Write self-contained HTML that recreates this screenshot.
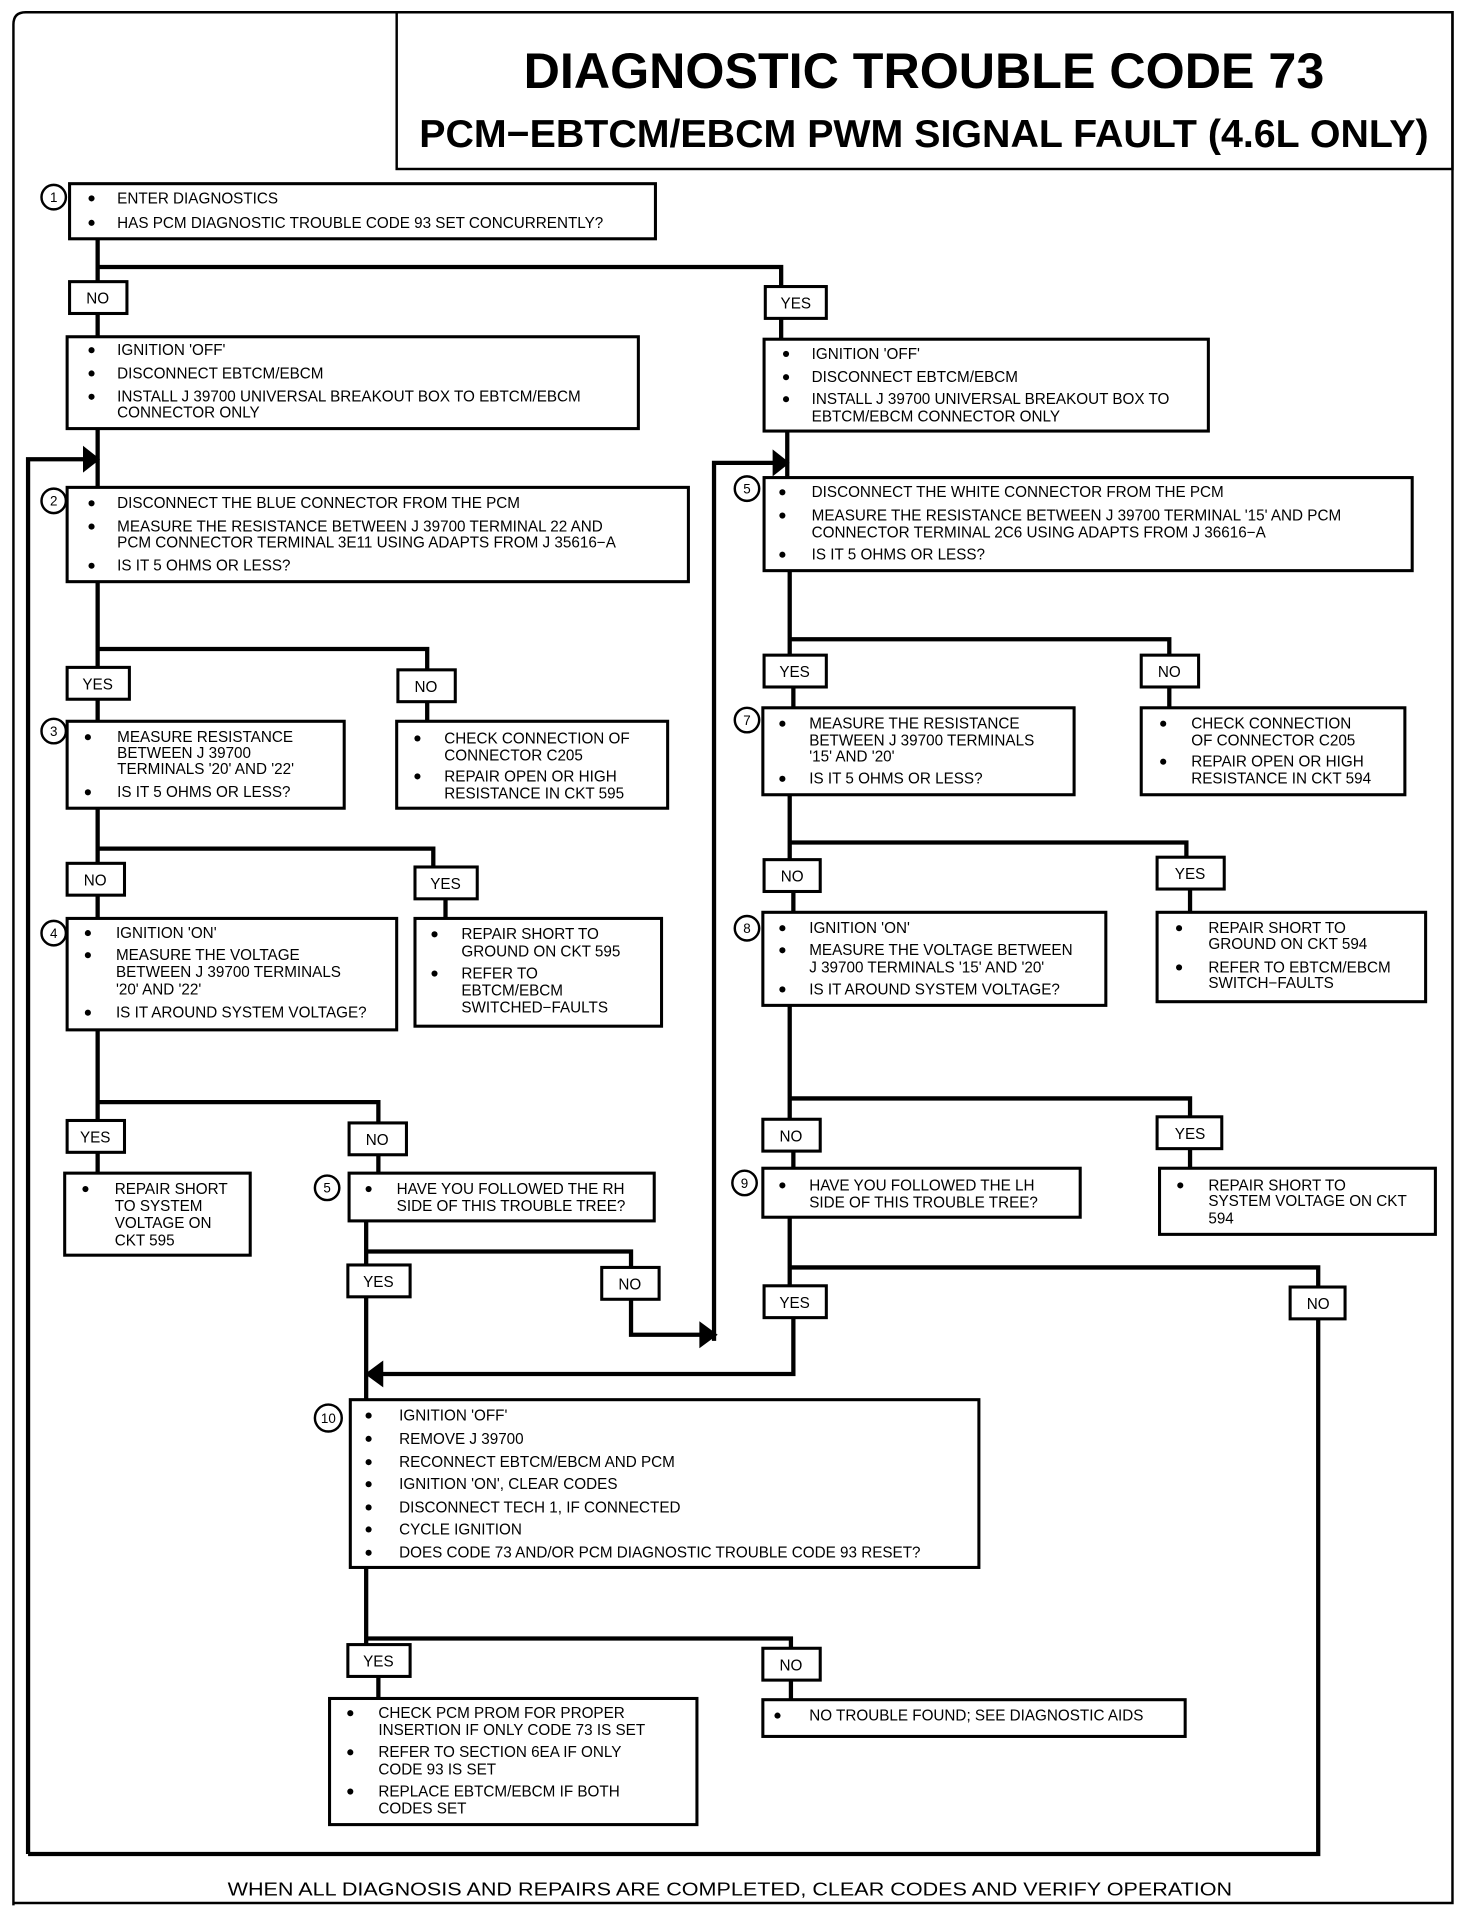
<!DOCTYPE html>
<html><head><meta charset="utf-8"><style>
html,body{margin:0;padding:0;background:#fff;}
svg{display:block;}
text{font-family:"Liberation Sans",sans-serif;fill:#000;}
.t{font-size:12.5px;}
.l{font-size:12.5px;text-anchor:middle;}
.n{font-size:11px;text-anchor:middle;}
</style></head><body>
<svg width="1472" height="1914" viewBox="0 0 1206 1563" preserveAspectRatio="none" xmlns="http://www.w3.org/2000/svg">
<g fill="none" stroke="#000" stroke-width="2">
<path d="M11 1556 L11 20 Q11 10 21 10 L325 10"/>
<path d="M325 10 L1190 10 L1190 1554 L11 1554"/>
<rect x="325" y="10" width="865" height="128"/>
</g>
<text x="757" y="72" font-size="41" font-weight="bold" text-anchor="middle" textLength="656" lengthAdjust="spacingAndGlyphs">DIAGNOSTIC TROUBLE CODE 73</text>
<text x="757" y="120" font-size="32" font-weight="bold" text-anchor="middle" textLength="827" lengthAdjust="spacingAndGlyphs">PCM−EBTCM/EBCM PWM SIGNAL FAULT (4.6L ONLY)</text>

<g fill="none" stroke="#000" stroke-width="3.5">
<path d="M80 195 V218 H640 V234"/>
<path d="M80 218 V230 M80 256 V275"/>
<path d="M640 260 V277"/>
<path d="M80 350 V398"/>
<path d="M23 1514 V375 H72"/>
<path d="M80 475 V545 M80 530 H350 V547"/>
<path d="M80 571 V589 M350 573 V589"/>
<path d="M80 660 V705 M80 693 H355 V708"/>
<path d="M80 731 V750 M365 734 V750"/>
<path d="M80 841 V915 M80 900 H310 V917"/>
<path d="M80 941 V958 M310 943 V958"/>
<path d="M300 997 V1033 M300 1022 H517 V1035"/>
<path d="M517 1061 V1090 H577"/>
<path d="M585 1095 V378 H637"/>
<path d="M300 1059 V1143"/>
<path d="M645 352 V390"/>
<path d="M647 466 V535 M647 522 H958 V535"/>
<path d="M650 561 V578 M958 561 V578"/>
<path d="M647 649 V702 M647 688 H972 V700"/>
<path d="M650 728 V745 M975 726 V745"/>
<path d="M647 821 V914 M647 897 H975 V912"/>
<path d="M650 940 V954 M975 938 V954"/>
<path d="M647 994 V1050 M647 1035 H1080 V1051"/>
<path d="M650 1076 V1122 H310"/>
<path d="M1080 1077 V1514 H23"/>
<path d="M300 1280 V1343 M300 1338 H648 V1346"/>
<path d="M310 1369 V1387 M648 1372 V1388"/>
</g>
<g fill="#000">
<polygon points="68,364 82,375 68,386"/>
<polygon points="633,367 647,378 633,389"/>
<polygon points="573,1079 588,1090 573,1101"/>
<polygon points="314,1111 299,1122 314,1133"/>
</g>

<g fill="#fff" stroke="#000" stroke-width="2.5">
<rect x="57" y="150" width="480" height="45"/>
<rect x="57" y="230" width="47" height="26"/>
<rect x="627" y="234" width="50" height="26"/>
<rect x="55" y="275" width="468" height="75"/>
<rect x="626" y="277" width="364" height="75"/>
<rect x="55" y="398" width="509" height="77"/>
<rect x="55" y="545" width="51" height="26"/>
<rect x="326" y="547" width="47" height="26"/>
<rect x="55" y="589" width="227" height="71"/>
<rect x="325" y="589" width="222" height="71"/>
<rect x="55" y="705" width="47" height="26"/>
<rect x="340" y="708" width="51" height="26"/>
<rect x="55" y="750" width="270" height="91"/>
<rect x="340" y="750" width="202" height="88"/>
<rect x="55" y="915" width="47" height="26"/>
<rect x="286" y="917" width="47" height="26"/>
<rect x="53" y="958" width="152" height="67"/>
<rect x="286" y="958" width="250" height="39"/>
<rect x="285" y="1033" width="51" height="26"/>
<rect x="493" y="1035" width="47" height="26"/>
<rect x="287" y="1143" width="515" height="137"/>
<rect x="285" y="1343" width="51" height="26"/>
<rect x="625" y="1346" width="47" height="26"/>
<rect x="270" y="1387" width="301" height="103"/>
<rect x="625" y="1388" width="346" height="30"/>
<rect x="626" y="390" width="531" height="76"/>
<rect x="626" y="535" width="51" height="26"/>
<rect x="935" y="535" width="47" height="26"/>
<rect x="625" y="578" width="255" height="71"/>
<rect x="935" y="578" width="216" height="71"/>
<rect x="626" y="702" width="46" height="26"/>
<rect x="948" y="700" width="55" height="26"/>
<rect x="625" y="745" width="281" height="76"/>
<rect x="948" y="745" width="220" height="73"/>
<rect x="625" y="914" width="47" height="26"/>
<rect x="948" y="912" width="53" height="26"/>
<rect x="625" y="954" width="260" height="40"/>
<rect x="950" y="954" width="226" height="54"/>
<rect x="626" y="1050" width="51" height="26"/>
<rect x="1057" y="1051" width="45" height="26"/>
</g>
<g fill="#fff" stroke="#000" stroke-width="2">
<circle cx="44" cy="161" r="10"/><circle cx="44" cy="409" r="10"/><circle cx="44" cy="597" r="10"/>
<circle cx="44" cy="762" r="10"/><circle cx="268" cy="970" r="10"/><circle cx="269" cy="1158" r="11"/>
<circle cx="612" cy="399" r="10"/><circle cx="612" cy="588" r="10"/><circle cx="612" cy="758" r="10"/>
<circle cx="610" cy="966" r="10"/>
</g>
<text class="n" x="44" y="165">1</text><text class="n" x="44" y="413">2</text><text class="n" x="44" y="601">3</text>
<text class="n" x="44" y="766">4</text><text class="n" x="268" y="974">5</text><text class="n" x="269" y="1162">10</text>
<text class="n" x="612" y="403">5</text><text class="n" x="612" y="592">7</text><text class="n" x="612" y="762">8</text>
<text class="n" x="610" y="970">9</text>

<text class="l" x="80" y="248">NO</text>
<text class="l" x="652" y="252">YES</text>
<text class="l" x="80" y="563">YES</text>
<text class="l" x="349" y="565">NO</text>
<text class="l" x="78" y="723">NO</text>
<text class="l" x="365" y="726">YES</text>
<text class="l" x="78" y="933">YES</text>
<text class="l" x="309" y="935">NO</text>
<text class="l" x="310" y="1051">YES</text>
<text class="l" x="516" y="1053">NO</text>
<text class="l" x="310" y="1361">YES</text>
<text class="l" x="648" y="1364">NO</text>
<text class="l" x="651" y="553">YES</text>
<text class="l" x="958" y="553">NO</text>
<text class="l" x="649" y="720">NO</text>
<text class="l" x="975" y="718">YES</text>
<text class="l" x="648" y="932">NO</text>
<text class="l" x="975" y="930">YES</text>
<text class="l" x="651" y="1068">YES</text>
<text class="l" x="1080" y="1069">NO</text>

<g fill="#000">
<circle cx="75" cy="162" r="2.5"/><circle cx="75" cy="182" r="2.5"/>
<circle cx="75" cy="286" r="2.5"/><circle cx="75" cy="305" r="2.5"/><circle cx="75" cy="324" r="2.5"/>
<circle cx="644" cy="289" r="2.5"/><circle cx="644" cy="308" r="2.5"/><circle cx="644" cy="326" r="2.5"/>
<circle cx="75" cy="411" r="2.5"/><circle cx="75" cy="430" r="2.5"/><circle cx="75" cy="462" r="2.5"/>
<circle cx="72" cy="602" r="2.5"/><circle cx="72" cy="647" r="2.5"/>
<circle cx="342" cy="603" r="2.5"/><circle cx="342" cy="634" r="2.5"/>
<circle cx="72" cy="762" r="2.5"/><circle cx="72" cy="780" r="2.5"/><circle cx="72" cy="827" r="2.5"/>
<circle cx="356" cy="763" r="2.5"/><circle cx="356" cy="795" r="2.5"/>
<circle cx="70" cy="971" r="2.5"/>
<circle cx="302" cy="971" r="2.5"/>
<circle cx="302" cy="1156" r="2.5"/><circle cx="302" cy="1175" r="2.5"/><circle cx="302" cy="1194" r="2.5"/><circle cx="302" cy="1212" r="2.5"/><circle cx="302" cy="1231" r="2.5"/><circle cx="302" cy="1249" r="2.5"/><circle cx="302" cy="1268" r="2.5"/>
<circle cx="287" cy="1399" r="2.5"/><circle cx="287" cy="1431" r="2.5"/><circle cx="287" cy="1463" r="2.5"/>
<circle cx="637" cy="1401" r="2.5"/>
<circle cx="641" cy="402" r="2.5"/><circle cx="641" cy="421" r="2.5"/><circle cx="641" cy="453" r="2.5"/>
<circle cx="641" cy="591" r="2.5"/><circle cx="641" cy="636" r="2.5"/>
<circle cx="953" cy="591" r="2.5"/><circle cx="953" cy="622" r="2.5"/>
<circle cx="641" cy="758" r="2.5"/><circle cx="641" cy="776" r="2.5"/><circle cx="641" cy="808" r="2.5"/>
<circle cx="966" cy="758" r="2.5"/><circle cx="966" cy="790" r="2.5"/>
<circle cx="641" cy="968" r="2.5"/>
<circle cx="967" cy="968" r="2.5"/>
</g>

<g class="t">
<text class="t" x="96" y="166">ENTER DIAGNOSTICS</text>
<text class="t" x="96" y="186">HAS PCM  DIAGNOSTIC TROUBLE CODE 93 SET CONCURRENTLY?</text>

<text class="t" x="96" y="290">IGNITION 'OFF'</text>
<text class="t" x="96" y="309">DISCONNECT EBTCM/EBCM</text>
<text class="t" x="96" y="328">INSTALL J 39700 UNIVERSAL BREAKOUT BOX TO EBTCM/EBCM</text>
<text class="t" x="96" y="341">CONNECTOR ONLY</text>

<text class="t" x="665" y="293">IGNITION 'OFF'</text>
<text class="t" x="665" y="312">DISCONNECT EBTCM/EBCM</text>
<text class="t" x="665" y="330">INSTALL J 39700 UNIVERSAL BREAKOUT BOX TO</text>
<text class="t" x="665" y="344">EBTCM/EBCM CONNECTOR ONLY</text>

<text class="t" x="96" y="415">DISCONNECT THE BLUE CONNECTOR FROM THE PCM</text>
<text class="t" x="96" y="434">MEASURE THE RESISTANCE BETWEEN J  39700 TERMINAL 22 AND</text>
<text class="t" x="96" y="447">PCM CONNECTOR TERMINAL 3E11 USING ADAPTS FROM J  35616−A</text>
<text class="t" x="96" y="466">IS IT 5 OHMS OR LESS?</text>

<text class="t" x="96" y="606">MEASURE RESISTANCE</text>
<text class="t" x="96" y="619">BETWEEN J  39700</text>
<text class="t" x="96" y="632">TERMINALS '20' AND '22'</text>
<text class="t" x="96" y="651">IS IT 5 OHMS OR LESS?</text>

<text class="t" x="364" y="607">CHECK CONNECTION OF</text>
<text class="t" x="364" y="621">CONNECTOR C205</text>
<text class="t" x="364" y="638">REPAIR OPEN OR HIGH</text>
<text class="t" x="364" y="652">RESISTANCE IN CKT 595</text>

<text class="t" x="95" y="766">IGNITION 'ON'</text>
<text class="t" x="95" y="784">MEASURE THE VOLTAGE</text>
<text class="t" x="95" y="798">BETWEEN J  39700 TERMINALS</text>
<text class="t" x="95" y="812">'20' AND '22'</text>
<text class="t" x="95" y="831">IS IT AROUND SYSTEM VOLTAGE?</text>

<text class="t" x="378" y="767">REPAIR SHORT TO</text>
<text class="t" x="378" y="781">GROUND ON CKT  595</text>
<text class="t" x="378" y="799">REFER TO</text>
<text class="t" x="378" y="813">EBTCM/EBCM</text>
<text class="t" x="378" y="827">SWITCHED−FAULTS</text>

<text class="t" x="94" y="975">REPAIR SHORT</text>
<text class="t" x="94" y="989">TO SYSTEM</text>
<text class="t" x="94" y="1003">VOLTAGE ON</text>
<text class="t" x="94" y="1017">CKT  595</text>

<text class="t" x="325" y="975">HAVE YOU FOLLOWED THE RH</text>
<text class="t" x="325" y="989">SIDE OF THIS TROUBLE TREE?</text>

<text class="t" x="327" y="1160">IGNITION 'OFF'</text>
<text class="t" x="327" y="1179">REMOVE J 39700</text>
<text class="t" x="327" y="1198">RECONNECT EBTCM/EBCM AND PCM</text>
<text class="t" x="327" y="1216">IGNITION 'ON', CLEAR CODES</text>
<text class="t" x="327" y="1235">DISCONNECT TECH 1, IF CONNECTED</text>
<text class="t" x="327" y="1253">CYCLE IGNITION</text>
<text class="t" x="327" y="1272">DOES CODE 73 AND/OR PCM DIAGNOSTIC TROUBLE CODE 93 RESET?</text>

<text class="t" x="310" y="1403">CHECK PCM PROM FOR PROPER</text>
<text class="t" x="310" y="1417">INSERTION IF ONLY  CODE 73 IS SET</text>
<text class="t" x="310" y="1435">REFER TO SECTION 6EA IF ONLY</text>
<text class="t" x="310" y="1449">CODE 93 IS SET</text>
<text class="t" x="310" y="1467">REPLACE EBTCM/EBCM IF BOTH</text>
<text class="t" x="310" y="1481">CODES SET</text>

<text class="t" x="663" y="1405">NO TROUBLE FOUND; SEE DIAGNOSTIC AIDS</text>

<text class="t" x="665" y="406">DISCONNECT THE WHITE CONNECTOR FROM THE PCM</text>
<text class="t" x="665" y="425">MEASURE THE RESISTANCE BETWEEN  J  39700 TERMINAL '15'  AND PCM</text>
<text class="t" x="665" y="439">CONNECTOR TERMINAL 2C6 USING ADAPTS FROM  J  36616−A</text>
<text class="t" x="665" y="457">IS IT 5 OHMS OR LESS?</text>

<text class="t" x="663" y="595">MEASURE THE RESISTANCE</text>
<text class="t" x="663" y="609">BETWEEN J  39700 TERMINALS</text>
<text class="t" x="663" y="622">'15' AND '20'</text>
<text class="t" x="663" y="640">IS IT 5 OHMS OR LESS?</text>

<text class="t" x="976" y="595">CHECK CONNECTION</text>
<text class="t" x="976" y="609">OF CONNECTOR C205</text>
<text class="t" x="976" y="626">REPAIR OPEN OR HIGH</text>
<text class="t" x="976" y="640">RESISTANCE IN CKT  594</text>

<text class="t" x="663" y="762">IGNITION  'ON'</text>
<text class="t" x="663" y="780">MEASURE THE VOLTAGE BETWEEN</text>
<text class="t" x="663" y="794">J  39700 TERMINALS '15' AND '20'</text>
<text class="t" x="663" y="812">IS IT AROUND SYSTEM VOLTAGE?</text>

<text class="t" x="990" y="762">REPAIR SHORT TO</text>
<text class="t" x="990" y="775">GROUND ON CKT  594</text>
<text class="t" x="990" y="794">REFER TO EBTCM/EBCM</text>
<text class="t" x="990" y="807">SWITCH−FAULTS</text>

<text class="t" x="663" y="972">HAVE YOU FOLLOWED THE LH</text>
<text class="t" x="663" y="986">SIDE OF THIS TROUBLE TREE?</text>

<text class="t" x="990" y="972">REPAIR SHORT TO</text>
<text class="t" x="990" y="985">SYSTEM VOLTAGE ON CKT</text>
<text class="t" x="990" y="999">594</text>
</g>

<text x="598" y="1548" font-size="15" text-anchor="middle" textLength="823" lengthAdjust="spacingAndGlyphs">WHEN ALL DIAGNOSIS AND REPAIRS ARE COMPLETED, CLEAR CODES AND VERIFY OPERATION</text>
</svg>
</body></html>
